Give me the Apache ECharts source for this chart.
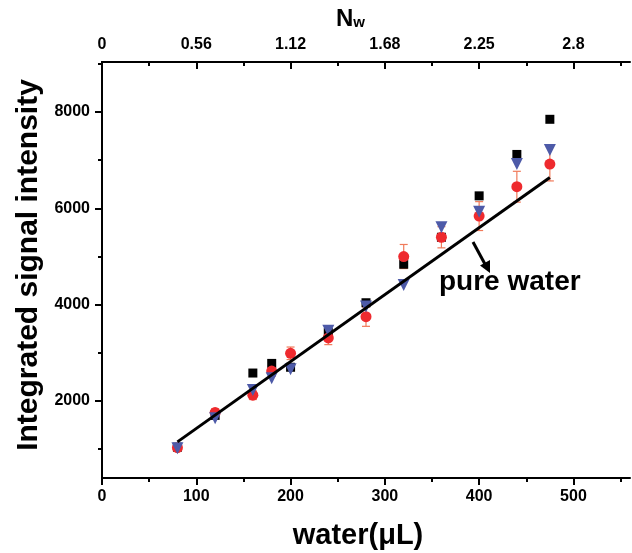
<!DOCTYPE html>
<html>
<head>
<meta charset="utf-8">
<script src="https://cdn.jsdelivr.net/npm/echarts@6/dist/echarts.min.js"></script>
<style>
  html, body { margin: 0; padding: 0; background: #fff; }
  #chart { width: 632px; height: 553px; }
</style>
</head>
<body>
<div id="chart"></div>
<script>
// water volume (uL) of every measured point
const waterVol = [80, 120, 160, 180, 200, 240, 280, 320, 360, 400, 440, 475];
const blackSq = [1040, 1700, 2580, 2780, 2700, 3420, 4040, 4840, 5400, 6260, 7120, 7850];
const redCirc = [1030, 1760, 2120, 2620, 2990, 3310, 3750, 5000, 5400, 5840, 6450, 6920];
const redErr = [60, 80, 90, 110, 130, 140, 200, 250, 220, 300, 320, 350];
const blueTri = [1020, 1640, 2230, 2470, 2660, 3460, 3960, 4410, 5610, 5930, 6920, 7210];

// pure water fit line
const fitX = [80, 475];
const fitY = [1150, 6640];

const majorX = [0, 100, 200, 300, 400, 500];
const minorX = [50, 150, 250, 350, 450, 550];
const nwLabels = ['0', '0.56', '1.12', '1.68', '2.25', '2.8'];
const majorY = [2000, 4000, 6000, 8000];
const minorY = [1000, 3000, 5000, 7000, 9000];

const FONT = '"Liberation Sans", Arial, sans-serif';

function zip(xs, ys) {
    return xs.map((x, i) => [x, ys[i]]);
}

let chart = echarts.init(document.getElementById('chart'));

let axisLine = { show: true, lineStyle: { color: '#000', width: 2 } };
let labelStyle = { color: '#000', fontSize: 16, fontWeight: 'bold', fontFamily: FONT };

function xAxisOf(grid, pos, values, len, inside, withLabels) {
    return {
        type: 'value', gridIndex: grid, position: pos, min: 0, max: 560,
        axisLine: grid === 0 ? axisLine : { show: false },
        axisTick: { show: true, customValues: values, length: len, inside: inside,
            lineStyle: { color: '#000', width: 2 } },
        axisLabel: withLabels ? Object.assign({ customValues: values, margin: pos === 'top' ? 9 : 11 }, labelStyle)
            : { show: false },
        splitLine: { show: false }
    };
}

let option = {
    animation: false,
    backgroundColor: '#fff',
    grid: [
        { left: 102, top: 62, width: 528, height: 416, containLabel: false, outerBoundsMode: 'none' },
        { left: 102, top: 62, width: 528, height: 416, containLabel: false, outerBoundsMode: 'none' }
    ],
    xAxis: [
        Object.assign(xAxisOf(0, 'bottom', majorX, 7, false, true), {
            name: 'water(μL)', nameLocation: 'middle', nameGap: 43,
            nameTextStyle: { color: '#000', fontSize: 29, fontWeight: 'bold', fontFamily: FONT,
                padding: [0, 16, 0, 0] }
        }),
        (function () {
            let ax = xAxisOf(0, 'top', majorX, 7, true, true);
            ax.axisLabel.formatter = function (v) { return nwLabels[majorX.indexOf(v)]; };
            return ax;
        })(),
        xAxisOf(1, 'bottom', minorX, 4, false, false),
        xAxisOf(1, 'top', minorX, 4, true, false)
    ],
    yAxis: [
        {
            type: 'value', gridIndex: 0, position: 'left', min: 400, max: 9040,
            axisLine: axisLine,
            axisTick: { show: true, customValues: majorY, length: 7, lineStyle: { color: '#000', width: 2 } },
            axisLabel: Object.assign({ customValues: majorY, margin: 12,
                formatter: function (v) { return String(v); } }, labelStyle),
            splitLine: { show: false },
            name: 'Integrated signal intensity', nameLocation: 'middle', nameGap: 55,
            nameTextStyle: { color: '#000', fontSize: 30, fontWeight: 'bold', fontFamily: FONT,
                padding: [0, 0, 0, 10] }
        },
        {
            type: 'value', gridIndex: 0, position: 'right', min: 400, max: 9040,
            axisLine: axisLine, axisTick: { show: false }, axisLabel: { show: false },
            splitLine: { show: false }
        },
        {
            type: 'value', gridIndex: 1, position: 'left', min: 400, max: 9040,
            axisLine: { show: false },
            axisTick: { show: true, customValues: minorY, length: 4, lineStyle: { color: '#000', width: 2 } },
            axisLabel: { show: false }, splitLine: { show: false }
        }
    ],
    graphic: [
        {
            type: 'text', left: 336, top: 7,
            style: {
                text: '{n|N}{w|w}',
                rich: {
                    n: { fontSize: 24, fontWeight: 'bold', fontFamily: FONT, fill: '#000' },
                    w: { fontSize: 15, fontWeight: 'bold', fontFamily: FONT, fill: '#000', padding: [8, 0, 0, 0] }
                }
            }
        },
        {
            type: 'text', left: 439, top: 268,
            style: { text: 'pure water', fontSize: 28, fontWeight: 'bold', fontFamily: FONT, fill: '#000' }
        },
        {
            type: 'line', shape: { x1: 473, y1: 242, x2: 486, y2: 266 },
            style: { stroke: '#000', lineWidth: 3 }
        },
        {
            type: 'polygon', shape: { points: [[490, 273], [490, 260], [480, 265.5]] },
            style: { fill: '#000' }
        }
    ],
    series: [
        {
            name: 'black', type: 'scatter', xAxisIndex: 0, yAxisIndex: 0,
            symbol: 'rect', symbolSize: 9, itemStyle: { color: '#000', opacity: 1 },
            data: zip(waterVol, blackSq), z: 3
        },
        {
            name: 'err', type: 'custom', xAxisIndex: 0, yAxisIndex: 0, z: 3,
            data: waterVol.map((x, i) => [x, redCirc[i], redErr[i]]),
            renderItem: function (params, api) {
                let x = api.value(0), y = api.value(1), e = api.value(2);
                let hi = api.coord([x, y + e]);
                let lo = api.coord([x, y - e]);
                let st = { stroke: '#f07a5a', lineWidth: 1.2 };
                return {
                    type: 'group',
                    children: [
                        { type: 'line', shape: { x1: hi[0], y1: hi[1], x2: lo[0], y2: lo[1] }, style: st },
                        { type: 'line', shape: { x1: hi[0] - 4, y1: hi[1], x2: hi[0] + 4, y2: hi[1] }, style: st },
                        { type: 'line', shape: { x1: lo[0] - 4, y1: lo[1], x2: lo[0] + 4, y2: lo[1] }, style: st }
                    ]
                };
            }
        },
        {
            name: 'red', type: 'scatter', xAxisIndex: 0, yAxisIndex: 0,
            symbol: 'circle', symbolSize: 11, itemStyle: { color: '#ee2a2e', opacity: 1 },
            data: zip(waterVol, redCirc), z: 4
        },
        {
            name: 'blue', type: 'scatter', xAxisIndex: 0, yAxisIndex: 0,
            symbol: 'triangle', symbolRotate: 180, symbolSize: 12, itemStyle: { color: '#4d5aa8', opacity: 1 },
            data: zip(waterVol, blueTri), z: 5
        },
        {
            name: 'fit', type: 'line', xAxisIndex: 0, yAxisIndex: 0,
            showSymbol: false, symbol: 'none', lineStyle: { color: '#000', width: 3 },
            data: zip(fitX, fitY), z: 6
        }
    ]
};

chart.setOption(option);
</script>
</body>
</html>
